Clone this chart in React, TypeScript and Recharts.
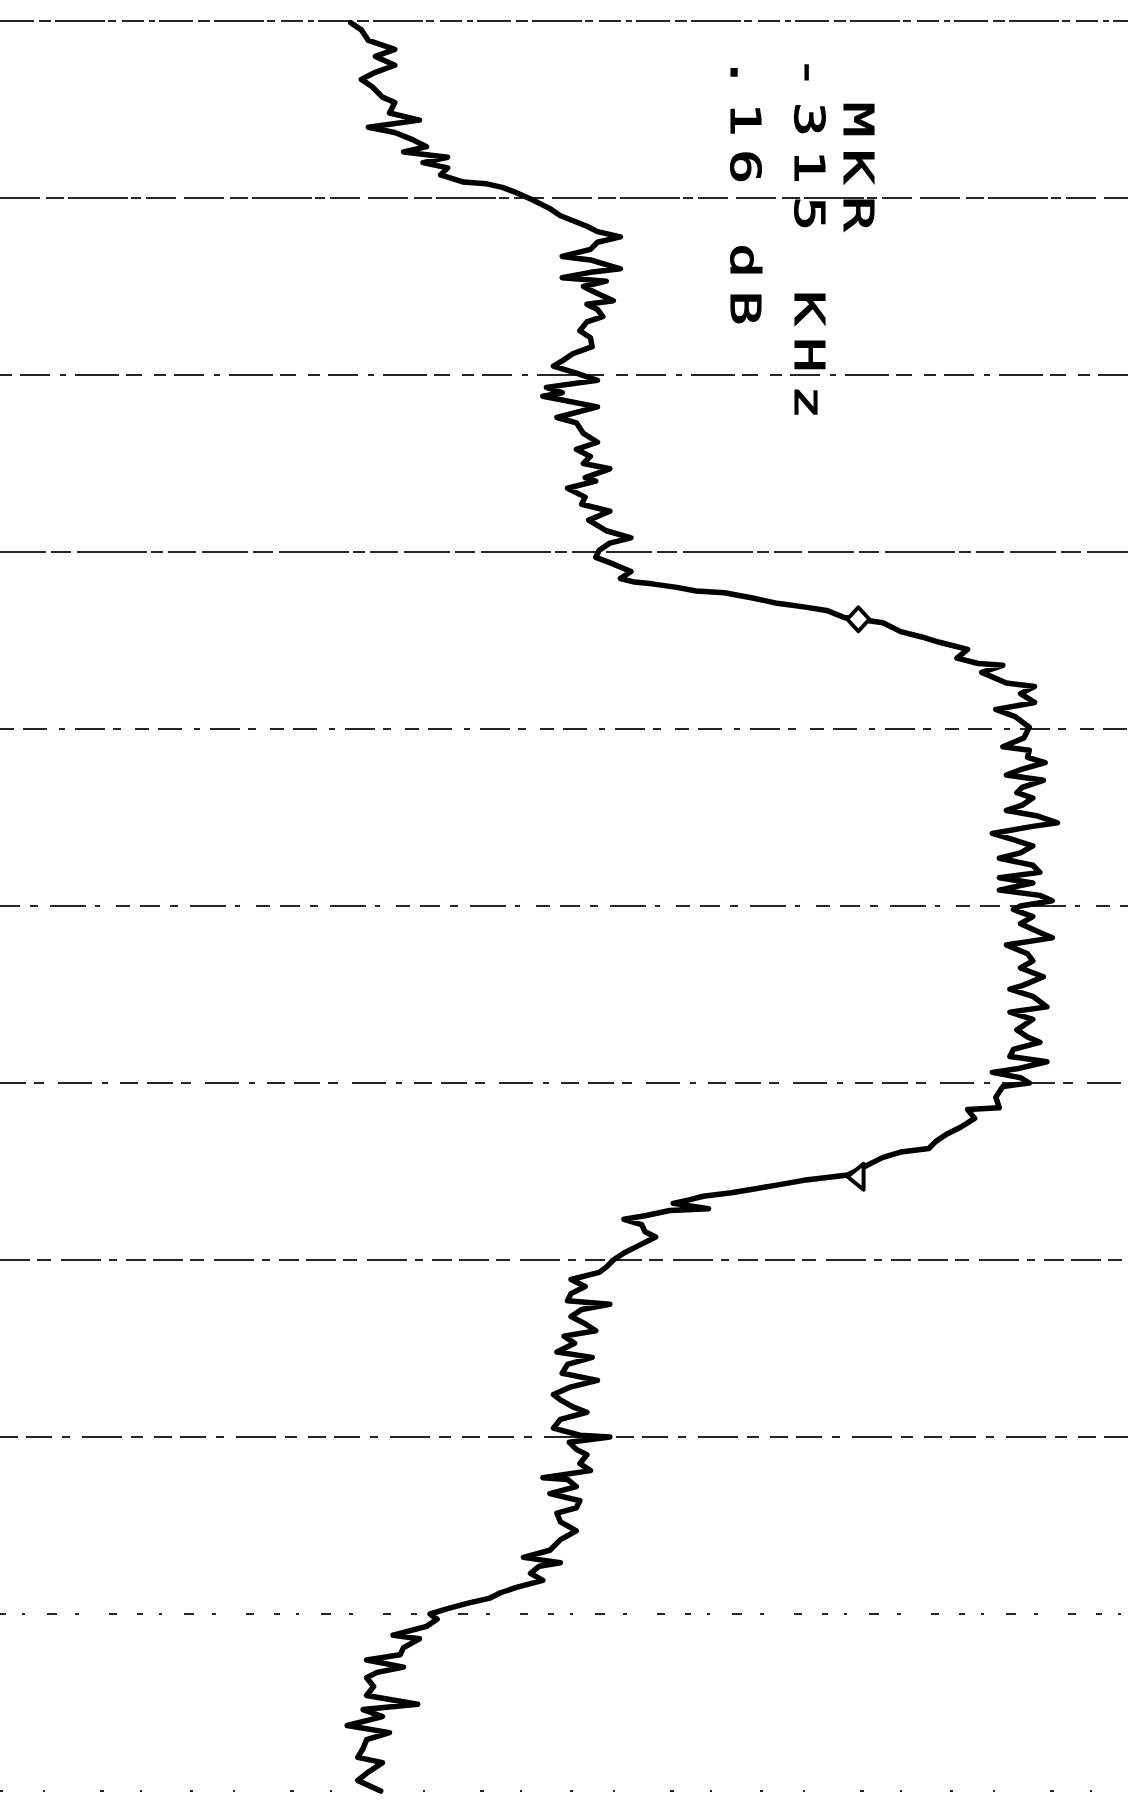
import { ScatterChart, Scatter, XAxis, YAxis, ReferenceLine } from "recharts";

const W = 1128;
const H = 1807;

// vertical axis: frequency, 100 kHz per division (top = 0)
// horizontal axis: level in dB, 10 dB per division, right edge = 0 dB
const GRID_KHZ = [0, 100, 200, 300, 400, 500, 600, 700, 800, 900, 1000];

// trace, one list per frequency division: [kHz, dB]
const DIV_0 = [
  [1, -44.1], [5, -43.5], [11, -43.1], [16, -41.6], [20, -42.7], [25, -41.6], [29, -42.7],
  [33, -43.5], [37, -42.9], [43, -42.3], [46, -41.6], [52, -41.9], [56, -40.2], [60, -43.1],
  [63, -41.6], [67, -40.6], [71, -39.8], [74, -41.1], [77, -38.6], [80, -40.0], [83, -38.6],
  [87, -39.0], [91, -37.7], [92, -36.4], [94, -35.5], [97, -34.7], [101, -33.8],
];
const DIV_1 = [
  [106, -32.8], [110, -32.2], [112, -31.7], [116, -30.7], [119, -30.1], [122, -28.8], [125, -30.1],
  [129, -30.5], [133, -32.1], [135, -30.5], [140, -28.8], [142, -30.5], [145, -32.1], [147, -29.6],
  [150, -30.9], [154, -30.1], [158, -29.2], [160, -30.7], [163, -30.1], [167, -29.8], [170, -30.7],
  [175, -31.1], [179, -30.5], [184, -30.4], [188, -31.5], [192, -32.1], [195, -32.6], [199, -31.3],
];
const DIV_2 = [
  [203, -30.1], [207, -33.0], [210, -32.1], [212, -33.2], [218, -30.1], [224, -32.4], [227, -31.3],
  [233, -30.9], [238, -30.1], [242, -31.3], [246, -30.5], [250, -30.9], [253, -29.4], [258, -30.8],
  [260, -30.2], [264, -31.8], [269, -30.8], [273, -31.0], [277, -29.4], [282, -30.6], [288, -29.6],
  [292, -28.2], [295, -29.4], [299, -30.0],
];
const DIV_3 = [
  [303, -30.2], [306, -29.4], [311, -28.2], [315, -28.8], [317, -28.0], [318, -27.0], [320, -25.6],
  [322, -24.5], [323, -22.9], [326, -21.3], [329, -19.9], [331, -18.4], [333, -17.1], [337, -16.1],
  [338, -15.3], [340, -13.9], [345, -12.9], [348, -11.7], [351, -10.7], [355, -9.1], [360, -9.7],
  [363, -8.5], [364, -7.1], [368, -8.3], [374, -6.9], [376, -5.3], [380, -6.1], [385, -5.3],
  [389, -7.5], [393, -6.4], [399, -5.6],
];
const DIV_4 = [
  [405, -5.9], [410, -7.1], [412, -5.6], [416, -5.7], [419, -4.7], [423, -6.1], [426, -6.9],
  [429, -4.8], [433, -6.0], [436, -6.3], [439, -5.4], [443, -6.0], [446, -6.9], [449, -5.2],
  [453, -4.0], [455, -5.4], [459, -7.7], [462, -6.7], [466, -5.4], [470, -6.1], [473, -7.3],
  [477, -5.4], [481, -5.0], [484, -7.3], [487, -5.4], [491, -7.3], [494, -5.0], [497, -4.3],
  [500, -6.1],
];
const DIV_5 = [
  [502, -6.5], [506, -5.4], [510, -6.1], [515, -5.0], [518, -4.3], [522, -6.9], [527, -5.7],
  [531, -5.4], [535, -6.1], [540, -4.8], [545, -6.0], [547, -6.7], [551, -5.4], [557, -4.6],
  [560, -6.7], [564, -5.4], [570, -6.3], [574, -5.7], [577, -5.0], [581, -6.5], [585, -6.7],
  [588, -4.6], [592, -6.3], [594, -7.7], [597, -6.1], [600, -5.6],
];
const DIV_6 = [
  [602, -7.1], [608, -7.5], [614, -7.3], [615, -9.1], [620, -8.7], [625, -9.5], [629, -10.3],
  [633, -10.9], [637, -11.3], [639, -12.9], [642, -13.9], [645, -14.5], [649, -15.3], [652, -15.9],
  [655, -18.4], [658, -20.1], [660, -21.3], [662, -22.5], [664, -24.1], [666, -24.9], [668, -25.8],
  [671, -23.8], [672, -26.0], [675, -27.4], [677, -28.6], [680, -27.6], [684, -27.4], [687, -26.8],
  [692, -27.8], [696, -28.6], [700, -29.2],
];
const DIV_7 = [
  [704, -29.6], [707, -30.0], [711, -31.6], [715, -30.8], [719, -31.6], [723, -31.8], [725, -29.4],
  [728, -31.0], [732, -31.6], [736, -30.8], [740, -30.2], [743, -32.0], [747, -31.4], [752, -32.4],
  [755, -30.4], [759, -31.8], [764, -32.1], [768, -30.1], [772, -31.7], [776, -32.6], [779, -32.2],
  [783, -31.5], [786, -30.7], [790, -32.2], [795, -32.6], [799, -31.1], [800, -29.4],
];
const DIV_8 = [
  [803, -31.7], [807, -31.3], [810, -30.7], [815, -31.1], [819, -30.5], [823, -33.2], [824, -31.8],
  [828, -31.3], [832, -32.8], [836, -31.1], [840, -31.3], [843, -32.4], [848, -32.2], [853, -31.3],
  [858, -32.2], [864, -32.8], [868, -34.3], [871, -32.2], [873, -33.4], [877, -33.9], [881, -33.2],
  [885, -34.7], [888, -35.6], [891, -36.2], [894, -37.5], [897, -38.6], [900, -39.6],
];
const DIV_9 = [
  [903, -39.2], [907, -39.8], [912, -41.7], [914, -40.2], [919, -41.1], [923, -41.3], [926, -43.2],
  [930, -41.1], [933, -42.6], [936, -43.2], [941, -42.8], [946, -43.2], [951, -40.3], [954, -43.4],
  [958, -42.3], [963, -44.3], [967, -41.9], [971, -43.2], [976, -43.4], [981, -43.7], [984, -42.3],
  [990, -43.2], [994, -43.7], [1000, -42.4],
];

const TRACE = [DIV_0, DIV_1, DIV_2, DIV_3, DIV_4, DIV_5, DIV_6, DIV_7, DIV_8, DIV_9]
  .flat()
  .map(([f, db]) => ({ f, db }));

const MARKERS = [
  { f: 338, db: -15.3, kind: "diamond" },
  { f: 653, db: -15.4, kind: "triangle" },
];

// marker readout, printed sideways by the plotter
const READOUT = ["MKR", "-315 KHz", ".16 dB"];

const GRID_DASH = [
  "34 5 12 4 50 3 8 6 22 5 6 4",
  "40 6 18 4 60 3 10 5 30 8",
  "12 8 30 10 6 9 44 7 16 12",
  "46 5 20 6 70 4 12 5 28 6",
  "14 9 24 12 6 10 30 8 8 14",
  "20 10 8 12 36 9 5 16 14 10",
  "26 8 10 14 34 10 6 12 18 9",
  "30 7 14 10 40 8 8 9 20 7",
  "18 8 26 10 8 12 40 9 12 11",
  "6 16 3 22 10 18 4 30 8 20",
  "3 40 2 55 4 36 2 48",
];

function MarkerShape(props: any) {
  const { cx, cy, payload } = props;
  if (payload.kind === "diamond") {
    return (
      <path
        d={`M${cx},${cy - 12} L${cx + 11},${cy} L${cx},${cy + 12} L${cx - 11},${cy} Z`}
        fill="#fff"
        stroke="#000"
        strokeWidth={4}
        strokeLinejoin="round"
      />
    );
  }
  return (
    <path
      d={`M${cx - 9},${cy} L${cx + 7},${cy - 13} L${cx + 7},${cy + 13} Z`}
      fill="#fff"
      stroke="#000"
      strokeWidth={4}
      strokeLinejoin="round"
    />
  );
}

export default function App() {
  const lines = [
    { text: READOUT[0], x: 844, y: 102 },
    { text: READOUT[1], x: 795, y: 55 },
    { text: READOUT[2], x: 731, y: 55 },
  ];

  return (
    <div style={{ position: "absolute", left: 0, top: 0, width: W, height: H, background: "#fff" }}>
      <ScatterChart width={W} height={H} margin={{ top: 21, right: 0, bottom: 16, left: 0 }}>
        <XAxis type="number" dataKey="db" domain={[-64, 0]} hide />
        <YAxis type="number" dataKey="f" domain={[0, 1000]} reversed hide />
        {GRID_KHZ.map((k, i) => (
          <ReferenceLine
            key={k}
            y={k}
            stroke="#262626"
            strokeWidth={2}
            strokeDasharray={GRID_DASH[i]}
          />
        ))}
        <Scatter
          data={TRACE}
          isAnimationActive={false}
          line={{ stroke: "#000", strokeWidth: 5.5, strokeLinejoin: "round", strokeLinecap: "round" }}
          shape={() => <g />}
        />
        <Scatter data={MARKERS} isAnimationActive={false} shape={MarkerShape} />
      </ScatterChart>
      <svg
        width={W}
        height={H}
        style={{ position: "absolute", left: 0, top: 0, pointerEvents: "none" }}
      >
        {lines.map((l) => (
          <text
            key={l.text}
            transform={`translate(${l.x},${l.y}) rotate(90) scale(1.45,1)`}
            fontFamily="DejaVu Sans Mono"
            fontSize={40}
            fontWeight={400}
            letterSpacing={8.4}
            fill="#000"
            stroke="#000"
            strokeWidth={1.1}
          >
            {l.text}
          </text>
        ))}
      </svg>
    </div>
  );
}
